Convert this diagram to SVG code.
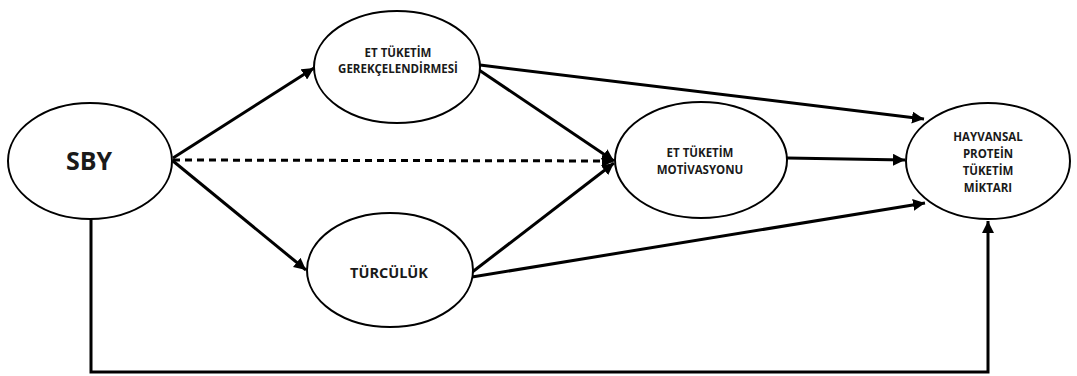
<svg xmlns="http://www.w3.org/2000/svg" width="1077" height="376" viewBox="0 0 1077 376">
<style>
.node ellipse{fill:#fff;stroke:#000;stroke-width:2}
.node text{font-family:"Open Sans","Liberation Sans",sans-serif;font-weight:bold;fill:#1a1a1a;text-anchor:middle}
.t{font-size:11.5px}
.c{fill:none;stroke:#000;stroke-width:3}
.d{stroke-dasharray:7 5}
</style>
<defs>
<marker id="ah" viewBox="0 0 10 10" refX="10" refY="5" markerWidth="4" markerHeight="4" orient="auto" markerUnits="strokeWidth">
<path d="M0,0 L10,5 L0,10 z" fill="#000"/>
</marker>
</defs>
<rect width="1077" height="376" fill="#fff"/>
<g id="connectors">
<line class="c" x1="173" y1="158" x2="314" y2="68" marker-end="url(#ah)"/>
<line class="c" x1="173" y1="161" x2="306" y2="270" marker-end="url(#ah)"/>
<line class="c d" x1="173" y1="160" x2="614" y2="161" marker-end="url(#ah)"/>
<line class="c" x1="479" y1="70" x2="614" y2="161" marker-end="url(#ah)"/>
<line class="c" x1="471" y1="273" x2="614" y2="163" marker-end="url(#ah)"/>
<line class="c" x1="480" y1="65" x2="924" y2="119" marker-end="url(#ah)"/>
<line class="c" x1="787" y1="158" x2="905" y2="160" marker-end="url(#ah)"/>
<line class="c" x1="472" y1="277" x2="925" y2="203" marker-end="url(#ah)"/>
<polyline class="c" points="91,219 91,372 988,372 988,221" marker-end="url(#ah)"/>
</g>
<g id="sby" class="node">
<ellipse cx="90" cy="161" rx="82" ry="58"/>
<text x="89" y="170" font-size="25">SBY</text>
</g>
<g id="gerekce" class="node">
<ellipse cx="397" cy="67" rx="83" ry="56"/>
<text class="t" x="398" y="57">ET TÜKETİM</text>
<text class="t" x="398" y="73">GEREKÇELENDİRMESİ</text>
</g>
<g id="motivasyon" class="node">
<ellipse cx="701" cy="160" rx="86" ry="58"/>
<text class="t" x="700" y="157" font-size="12.5">ET TÜKETİM</text>
<text class="t" x="700" y="174" font-size="12.5">MOTİVASYONU</text>
</g>
<g id="turculuk" class="node">
<ellipse cx="390" cy="270" rx="83" ry="57"/>
<text x="389" y="278" font-size="14.5">TÜRCÜLÜK</text>
</g>
<g id="hayvansal" class="node">
<ellipse cx="988" cy="161" rx="82" ry="58"/>
<text class="t" x="988" y="141" font-size="12">HAYVANSAL</text>
<text class="t" x="988" y="158" font-size="12">PROTEİN</text>
<text class="t" x="988" y="175" font-size="12">TÜKETİM</text>
<text class="t" x="988" y="192" font-size="12">MİKTARI</text>
</g>
</svg>
